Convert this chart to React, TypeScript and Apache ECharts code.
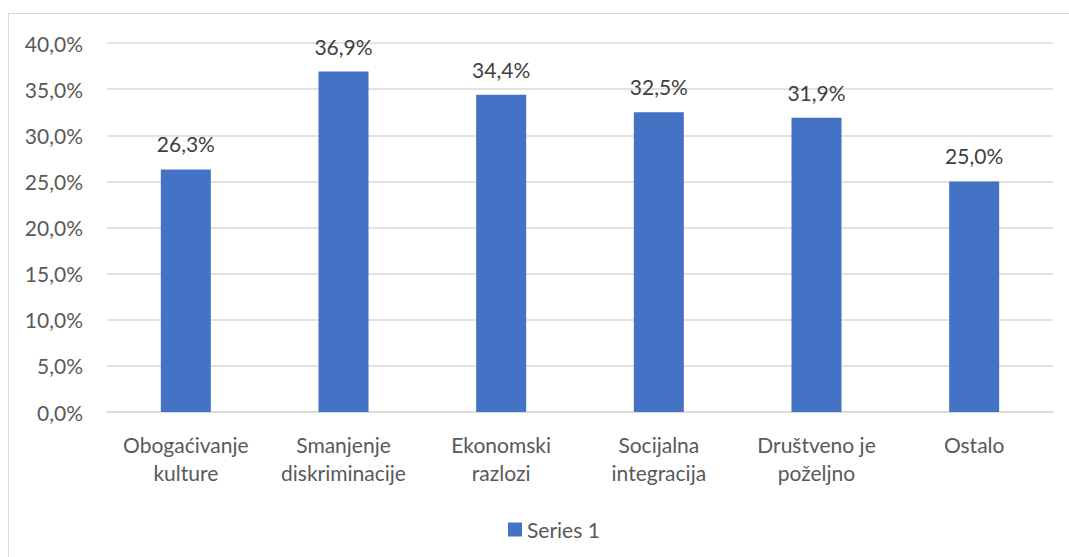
import React, { useEffect, useRef } from "react";
import * as echarts from "echarts";

const categories = [
  "Obogaćivanje\nkulture",
  "Smanjenje\ndiskriminacije",
  "Ekonomski\nrazlozi",
  "Socijalna\nintegracija",
  "Društveno je\npoželjno",
  "Ostalo",
];
const seriesName = "Series 1";
const values = [26.3, 36.9, 34.4, 32.5, 31.9, 25.0];
const yMin = 0;
const yMax = 40;
const yInterval = 5;

const FONT = "Lato, 'Noto Sans', sans-serif";
const FS = 21;
const fmt = (v: number) => v.toFixed(1).replace(".", ",") + "%";

export default function App() {
  const ref = useRef<HTMLDivElement>(null);
  useEffect(() => {
    if (!ref.current) return;
    const chart = echarts.init(ref.current, undefined, { renderer: "svg" });
    chart.setOption({
      animation: false,
      backgroundColor: "#ffffff",
      textStyle: { fontFamily: FONT },
      graphic: [
        {
          type: "rect",
          shape: { x: 8.5, y: 13.5, width: 1100, height: 600 },
          style: { fill: "none", stroke: "#d9d9d9", lineWidth: 1 },
          silent: true,
        },
      ],
      grid: { left: 107, right: 16, top: 43, bottom: 145, containLabel: false },
      legend: {
        data: [seriesName],
        top: 514,
        left: 503,
        icon: "rect",
        itemWidth: 14,
        itemHeight: 14,
        itemGap: 6,
        textStyle: { color: "#595959", fontSize: FS, fontFamily: FONT },
      },
      xAxis: {
        type: "category",
        data: categories,
        axisLine: { lineStyle: { color: "#d9d9d9", width: 1.5 } },
        axisTick: { show: false },
        axisLabel: {
          color: "#595959",
          fontSize: FS,
          lineHeight: 28,
          margin: 18,
          interval: 0,
          fontFamily: FONT,
        },
      },
      yAxis: {
        type: "value",
        min: yMin,
        max: yMax,
        interval: yInterval,
        axisLine: { show: false },
        axisTick: { show: false },
        splitLine: { lineStyle: { color: "#d9d9d9", width: 1.5 } },
        axisLabel: {
          color: "#595959",
          fontSize: FS,
          margin: 24,
          formatter: (v: number) => fmt(v),
          fontFamily: FONT,
        },
      },
      series: [
        {
          name: seriesName,
          type: "bar",
          data: values,
          barWidth: 50,
          itemStyle: { color: "#4472c4" },
          label: {
            show: true,
            position: "top",
            distance: 15,
            color: "#404040",
            fontSize: FS,
            fontFamily: FONT,
            formatter: (p: any) => fmt(p.value),
          },
        },
      ],
    });
    return () => chart.dispose();
  }, []);
  return (
    <div
      ref={ref}
      style={{ position: "fixed", left: 0, top: 0, width: 1069, height: 557 }}
    />
  );
}
